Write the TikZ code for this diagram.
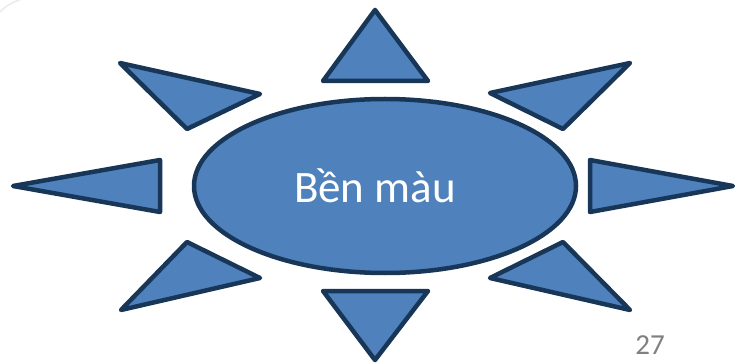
\documentclass[tikz,border=0pt]{standalone}
\usepackage{fontspec}
\setmainfont{Carlito}
\usetikzlibrary{shapes.geometric}
\definecolor{fillblue}{RGB}{79,129,189}
\definecolor{edgenavy}{RGB}{24,54,88}
\definecolor{pagegray}{RGB}{128,128,128}
\begin{document}
\begin{tikzpicture}[x=1pt,y=-1pt,
  ray/.style={fill=fillblue,draw=edgenavy,line width=4.5pt,line join=round},
  core/.style={ellipse,fill=fillblue,draw=edgenavy,line width=4.5pt,minimum width=382pt,minimum height=174pt,inner sep=0pt},
  coretext/.style={inner sep=0pt,text=white,font=\fontsize{45}{52}\selectfont}]
\useasboundingbox (0,0) rectangle (735,363);
\draw[black!8,line width=1.5pt] (0,12) .. controls (6,6) and (12,2) .. (20,0);
\node[core] (sun) at (385,186) {};
\node[coretext] (label) at (375,186) {Bền màu};
% top and bottom
\draw[ray] (375,10) -- (428,81) -- (323,81) -- cycle;
\draw[ray] (375,360) -- (428,291) -- (323,291) -- cycle;
% left and right
\draw[ray] (13,186) -- (160,160) -- (160,212) -- cycle;
\draw[ray] (733,186) -- (590,160) -- (590,212) -- cycle;
% diagonals
\draw[ray] (120,63) -- (260,94) -- (187,129) -- cycle;
\draw[ray] (630,63) -- (490,93) -- (563,129) -- cycle;
\draw[ray] (121,310) -- (260,278) -- (187,242) -- cycle;
\draw[ray] (630,310) -- (490,278) -- (563,242) -- cycle;
\node[text=pagegray,font=\fontsize{29}{34}\selectfont,inner sep=0pt] (pnum) at (650,345) {27};
\end{tikzpicture}
\end{document}
